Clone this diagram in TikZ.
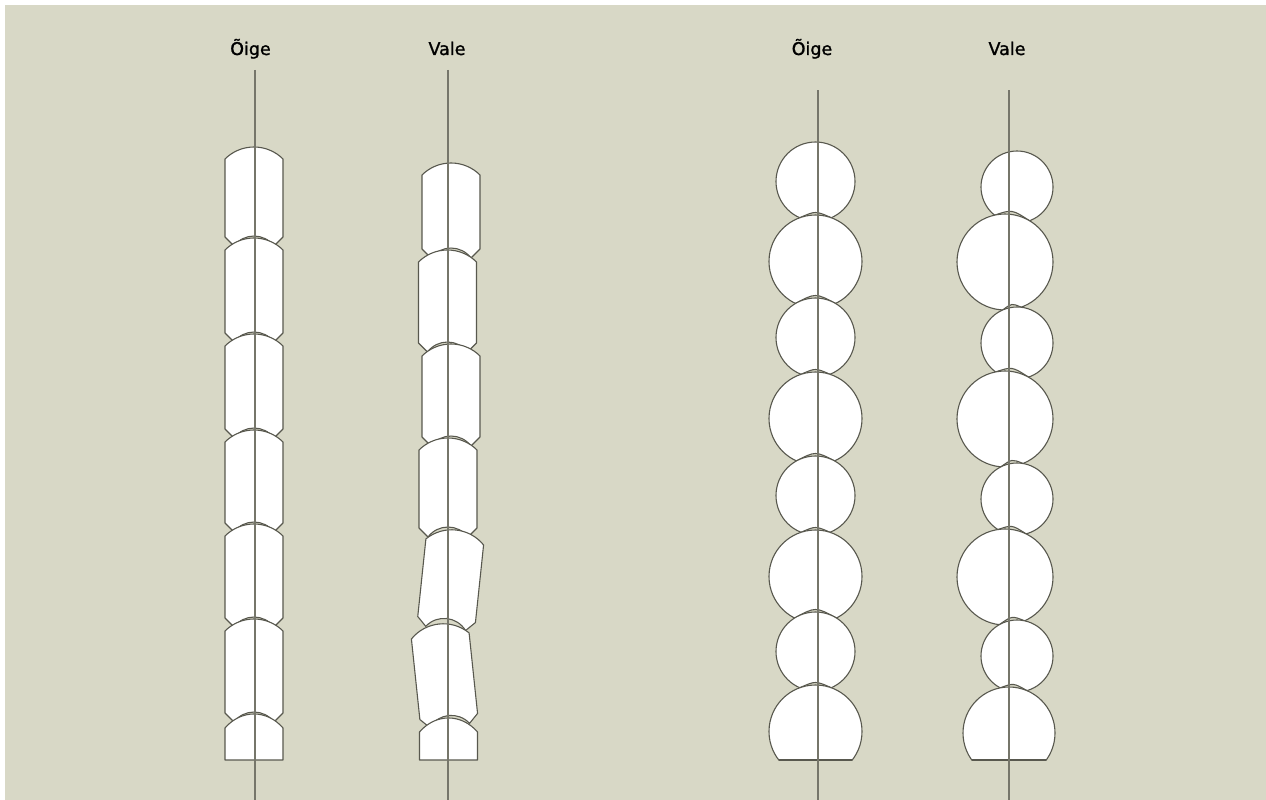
\documentclass[tikz,border=0pt]{standalone}
\usepackage{fontspec}
\setmainfont{DejaVu Sans}
\newfontfamily\lblfont[FakeBold=1.2]{DejaVu Sans}
\usetikzlibrary{calc,intersections}
\definecolor{bgc}{RGB}{216,216,198}
\definecolor{olc}{RGB}{88,88,78}
\definecolor{axc}{RGB}{118,118,106}
\tikzset{
 ol/.style={draw=olc, line width=1.1pt, line join=round},
 seg/.style={ol, fill=white},
 axisline/.style={draw=axc, line width=1.4pt},
 lbl/.style={font=\lblfont\fontsize{17.5}{20}\selectfont, text=black, anchor=base, inner sep=0pt},
 pics/vert/.style={code={
   \path[seg] (-29,12) .. controls (-13,-4) and (13,-4) .. (29,12) -- (29,#1+1) -- (20,#1+10)
     .. controls (10,#1-3.3) and (-10,#1-3.3) .. (-20,#1+10) -- (-29,#1+1) -- cycle;
 }},
 pics/vlast/.style={code={
   \path[seg] (-29,14) .. controls (-13,-4.7) and (13,-4.7) .. (29,14) -- (29,#1) -- (-29,#1) -- cycle;
 }},
}
\newcommand\ball[3]{\path[seg] (#1,#2) circle[radius=#3];}
\newcommand\lens[6]{%
 \path[name path=pu] (#1,#2) circle[radius=#3];
 \path[name path=pl] (#4,#5) circle[radius=#6];
 \path[name intersections={of=pu and pl, by={p1,p2}}];
 \coordinate (m) at ($(p1)!0.5!(p2)$);
 \pgfmathsetmacro\tp{#5-#6-2.5}
 \coordinate (pk) at (m |- 0,\tp);
 \coordinate (ct) at ($1.33333*(pk)-0.166667*(p1)-0.166667*(p2)$);
 \fill[bgc] (p1) .. controls (ct) .. (p2) -- ($(p2)+(0,6)$) -- ($(p1)+(0,6)$) -- cycle;
 \draw[ol] (p1) .. controls (ct) .. (p2);
}
\begin{document}
\begin{tikzpicture}[x=1pt,y=-1pt]
\useasboundingbox (0,0) rectangle (1266,800);
\fill[white] (0,0) rectangle (1266,800);
\fill[bgc] (5,5) rectangle (1266,800);

% labels
\node[lbl] (l1) at (250.5,55) {Õige};
\node[lbl] (l2) at (447,55) {Vale};
\node[lbl] (l3) at (812,55) {Õige};
\node[lbl] (l4) at (1007,55) {Vale};

% left panel: correct column
\pic at (254,147) {vert=89};
\pic at (254,238) {vert=94};
\pic at (254,334) {vert=94};
\pic at (254,430) {vert=92};
\pic at (254,524) {vert=93};
\pic at (254,619) {vert=93};
\pic at (254,714) {vlast=46};

% left panel: wrong column
\pic at (451,163) {vert=85};
\pic at (447.5,250) {vert=92};
\pic at (451,344) {vert=92};
\pic at (448,438) {vert=89};
\pic[rotate=-6] at (456,530) {vert=89};
\pic[rotate=6] at (439,624) {vert=92};
\pic at (448.5,718) {vlast=42};

% right panel: correct column
\ball{815.5}{181.5}{39.5}
\lens{815.5}{181.5}{39.5}{815.5}{261.5}{46.5}
\ball{815.5}{261.5}{46.5}
\lens{815.5}{261.5}{46.5}{815.5}{337.5}{39.5}
\ball{815.5}{337.5}{39.5}
\lens{815.5}{337.5}{39.5}{815.5}{418.5}{46.5}
\ball{815.5}{418.5}{46.5}
\lens{815.5}{418.5}{46.5}{815.5}{495.5}{39.5}
\ball{815.5}{495.5}{39.5}
\lens{815.5}{495.5}{39.5}{815.5}{576.5}{46.5}
\ball{815.5}{576.5}{46.5}
\lens{815.5}{576.5}{46.5}{815.5}{651.5}{39.5}
\ball{815.5}{651.5}{39.5}
\lens{815.5}{651.5}{39.5}{815.5}{731.5}{46.5}
\begin{scope}
 \clip (700,0) rectangle (1200,760);
 \ball{815.5}{731.5}{46.5}
\end{scope}
\coordinate (b1l) at (778.76,760);
\coordinate (b1r) at (852.24,760);
\draw[ol] (b1l) -- (b1r);

% right panel: wrong column
\ball{1017}{187}{36}
\lens{1017}{187}{36}{1005}{262}{48}
\ball{1005}{262}{48}
\lens{1005}{262}{48}{1017}{343}{36}
\ball{1017}{343}{36}
\lens{1017}{343}{36}{1005}{419}{48}
\ball{1005}{419}{48}
\lens{1005}{419}{48}{1017}{499}{36}
\ball{1017}{499}{36}
\lens{1017}{499}{36}{1005}{577}{48}
\ball{1005}{577}{48}
\lens{1005}{577}{48}{1017}{656}{36}
\ball{1017}{656}{36}
\lens{1017}{656}{36}{1009}{733}{46}
\begin{scope}
 \clip (900,0) rectangle (1200,760);
 \ball{1009}{733}{46}
\end{scope}
\coordinate (b2l) at (971.76,760);
\coordinate (b2r) at (1046.24,760);
\draw[ol] (b2l) -- (b2r);

% axes
\coordinate (a1t) at (255,70);  \coordinate (a1b) at (255,800);
\coordinate (a2t) at (448,70);  \coordinate (a2b) at (448,800);
\coordinate (a3t) at (818,90);  \coordinate (a3b) at (818,800);
\coordinate (a4t) at (1009,90); \coordinate (a4b) at (1009,800);
\draw[axisline] (a1t) -- (a1b);
\draw[axisline] (a2t) -- (a2b);
\draw[axisline] (a3t) -- (a3b);
\draw[axisline] (a4t) -- (a4b);
\end{tikzpicture}
\end{document}
